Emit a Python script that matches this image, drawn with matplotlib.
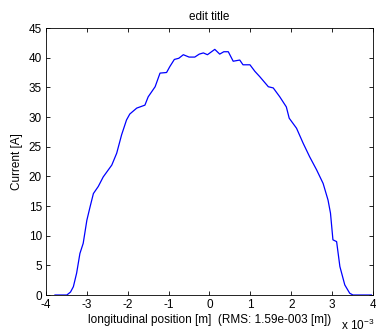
import matplotlib
matplotlib.use("Agg")
import matplotlib.pyplot as plt

plt.rcParams["font.family"] = ["Liberation Sans", "DejaVu Sans"]
plt.rcParams["axes.unicode_minus"] = False

# longitudinal position in mm (axis shows x 10^-3 m) and current in A
pos_mm = [-3.78, -3.49, -3.40, -3.33, -3.25, -3.17, -3.09, -3.00, -2.92, -2.84,
          -2.72, -2.60, -2.39, -2.27, -2.15, -2.03, -1.95, -1.78, -1.58, -1.50,
          -1.33, -1.21, -1.05, -0.97, -0.86, -0.75, -0.64, -0.50, -0.36, -0.25,
          -0.15, -0.05, 0.05, 0.13, 0.25, 0.35, 0.46, 0.58, 0.74, 0.82, 0.99,
          1.11, 1.23, 1.44, 1.56, 1.72, 1.88, 1.95, 2.13, 2.29, 2.45, 2.62,
          2.78, 2.90, 2.96, 3.02, 3.11, 3.19, 3.31, 3.43, 3.51, 3.96]
current = [0.0, 0.0, 0.5, 1.4, 3.7, 7.0, 8.7, 12.6, 14.9, 17.1,
           18.3, 19.9, 21.9, 23.9, 27.0, 29.5, 30.5, 31.5, 32.0, 33.4,
           35.1, 37.4, 37.5, 38.5, 39.7, 39.9, 40.5, 40.1, 40.1, 40.6,
           40.8, 40.5, 41.0, 41.4, 40.6, 41.0, 41.0, 39.4, 39.6, 38.8, 38.8,
           37.7, 36.8, 35.1, 34.9, 33.4, 31.7, 29.8, 28.1, 25.6, 23.3, 21.1,
           18.8, 16.0, 13.8, 9.3, 9.0, 4.8, 1.7, 0.3, 0.0, 0.0]

x_ticks = [-4, -3, -2, -1, 0, 1, 2, 3, 4]
y_ticks = [0, 5, 10, 15, 20, 25, 30, 35, 40, 45]

fig = plt.figure(figsize=(3.76, 3.33), dpi=100)
ax = fig.add_axes([0.1223, 0.1141, 0.8697, 0.8018])

ax.plot(pos_mm, current, color="#0000ff", linewidth=0.9)

ax.set_xlim(-4, 4)
ax.set_ylim(0, 45)
ax.set_xticks(x_ticks)
ax.set_yticks(y_ticks)
ax.tick_params(direction="in", top=True, right=True, length=3,
               labelsize=8.5, width=0.6, pad=3)
for s in ax.spines.values():
    s.set_linewidth(0.6)

ax.set_title("edit title", fontsize=8.5, pad=6)
ax.set_xlabel("longitudinal position [m]  (RMS: 1.59e-003 [m])", fontsize=8.5, labelpad=2)
ax.set_ylabel("Current [A]", fontsize=8.5, labelpad=4)
fig.text(0.997, 0.008, "x 10$^{\\mathregular{-3}}$", fontsize=8.5, ha="right", va="baseline")

fig.savefig("out.png", dpi=100)
